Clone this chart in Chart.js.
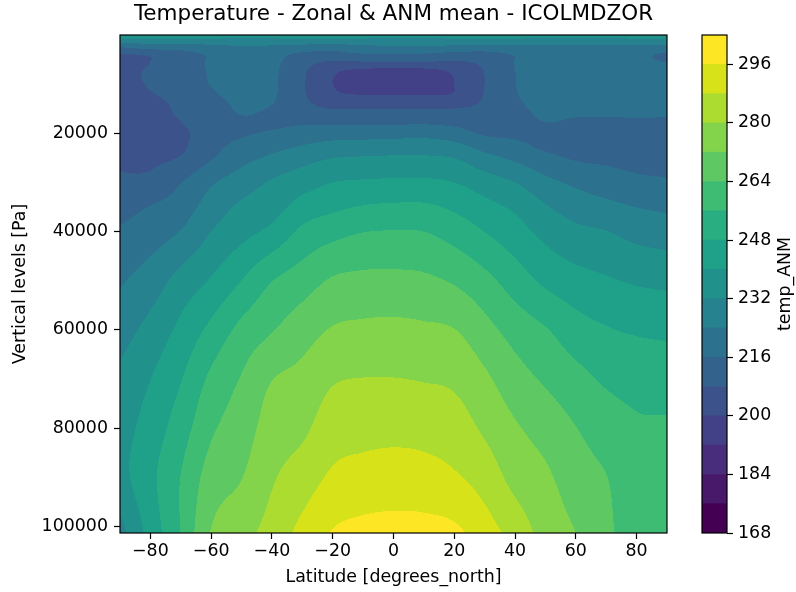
<!DOCTYPE html>
<html>
<head>
<meta charset="utf-8">
<script src="https://cdn.jsdelivr.net/npm/chart.js@4.4.1/dist/chart.umd.min.js"></script>
<style>
  html, body { margin: 0; padding: 0; background: #fff; }
  #wrap { position: relative; width: 796px; height: 592px; }
  #wrap canvas { position: absolute; top: 0; }
  #main { left: 0; }
  #cbar { left: 690px; }
</style>
</head>
<body>
<div id="wrap">
  <canvas id="main" width="796" height="592"></canvas>
  <canvas id="cbar" width="106" height="592"></canvas>
</div>
<script>
// Latitudes of the grid columns (degrees north)
const lats = [-90, -80, -70, -60, -50, -40, -30, -20, -10, 0, 10, 20, 30, 40, 50, 60, 70, 80, 90];
// Pressure levels of the grid rows (Pa), top to bottom
const levels = [10, 1000, 2500, 4000, 5500, 7000, 8500, 10000, 12000, 14000, 16000, 18000,
                20000, 22500, 25000, 30000, 35000, 40000, 50000, 60000, 70000, 80000, 90000, 101300];
// Zonal mean temperature (K), one row per level, one value per latitude
const temps = [
  [238, 238, 238, 238, 238, 238, 238, 238, 238, 238, 238, 238, 238, 238, 238, 238, 238, 238, 238],
  [230, 230, 230, 230, 230, 230, 230, 230, 230, 230, 230, 230, 230, 230, 230, 230, 230, 230, 230],
  [216, 219, 219.5, 221.5, 223, 222.5, 221, 220, 222, 222.4, 222.4, 222, 221, 222, 222.5, 222.5, 222.5, 222, 221.5],
  [207, 209, 212.5, 217, 220, 219, 214, 213, 215, 215, 215, 213, 213, 216.5, 219.5, 219.5, 219.5, 218, 214.5],
  [205.5, 208, 211.5, 217, 219.5, 218, 211, 207, 207.5, 208, 208, 207, 210, 216.2, 219.3, 219.2, 219.2, 217.5, 215.8],
  [205, 208.8, 211.5, 216.8, 219.3, 217.5, 209.5, 202, 199.5, 199, 199.2, 202, 208.5, 216, 219.2, 219, 219, 218, 217.5],
  [204.5, 209.3, 211.5, 216.6, 219.2, 217.3, 209, 200.3, 195.5, 195, 195.3, 200.2, 208, 215.8, 219, 218.8, 218.8, 218.3, 218],
  [204, 208.8, 211, 216.3, 219, 217.2, 208.8, 200, 195, 194.5, 194.8, 200, 208, 215.8, 219, 218.6, 218.5, 218.2, 218],
  [203.5, 207.5, 210.5, 215, 218.5, 217, 209, 201.5, 199.5, 199.5, 199.5, 200.5, 208.3, 215.5, 218.5, 218, 218, 217.8, 217.6],
  [203.2, 206, 209.5, 213, 217.5, 216.2, 209.5, 206, 205.2, 205, 205, 205.8, 209, 214.8, 217.8, 217.2, 217.2, 217.2, 217],
  [203, 205.5, 208.8, 212, 216.3, 214.5, 211, 209.8, 210.5, 210.5, 210.5, 210.2, 210.5, 214, 217, 216.5, 216.5, 216.6, 216.5],
  [203.3, 205, 207.8, 212, 214.5, 214.5, 215.3, 215.2, 215.2, 215.2, 215.5, 214.4, 212.5, 213.8, 215.8, 215.1, 215, 215, 215],
  [204, 205, 206.5, 212.5, 215, 217, 219.2, 220.3, 220.6, 221, 221.5, 219.4, 215, 214.5, 214.3, 213.9, 213.8, 213.7, 213.6],
  [205, 205.5, 206.8, 213.5, 218, 221.1, 224.1, 226.4, 227, 227.4, 227.5, 226, 220.8, 217.9, 214.5, 214, 213.2, 212.8, 212.6],
  [206, 206.5, 208.5, 215.3, 221.4, 225.3, 229, 231.9, 232.6, 233, 233, 231.8, 226.5, 222.4, 218, 215.2, 214.5, 213.5, 213],
  [209.5, 209.9, 215.7, 223, 228, 232.9, 236.6, 240, 241, 241.4, 241.5, 240, 235.9, 232, 226.2, 222.5, 219.8, 217.8, 216.9],
  [213.2, 216.3, 220, 227.6, 233.5, 236.9, 243.1, 246.3, 248.5, 249.3, 249.3, 246.6, 242.5, 238.6, 232.7, 228.5, 226.2, 223.9, 222.6],
  [216.8, 220, 224.3, 232, 237.4, 242, 249.7, 253.4, 255.8, 256.3, 256, 252.7, 247.9, 243.1, 237.7, 233.8, 232.2, 229.4, 228],
  [223.1, 227.8, 234.9, 240.8, 248.1, 255.8, 260.2, 264.9, 266, 266.1, 265.5, 263.1, 258.4, 252.2, 246.4, 243, 240.9, 239.1, 238.1],
  [228.6, 234.6, 242, 250.1, 258.3, 263.5, 268.4, 272.6, 273.6, 273.9, 273.3, 272.2, 266.7, 260.9, 256.6, 251.4, 248.6, 247.1, 246.3],
  [233.5, 239.9, 247.6, 257.7, 264.6, 271.8, 274.4, 279.2, 280.2, 280.2, 279.6, 278.5, 273.5, 267.3, 262.9, 258.6, 254.9, 253.4, 252.9],
  [236.5, 243.5, 252.2, 262.7, 268.2, 275.5, 278.5, 284.3, 285.4, 285.8, 285.4, 283.8, 278.7, 273, 268.8, 264.2, 259.9, 257, 256.8],
  [237, 246, 256.2, 267.5, 271.8, 279.1, 283.9, 289.3, 290.9, 291.6, 291, 289, 284.6, 277.5, 273.4, 267.9, 264.2, 258.9, 258.3],
  [229, 243, 256.5, 272.5, 277.5, 283, 290.5, 296.6, 298.5, 299, 299, 297.8, 291.8, 285, 277, 272, 265.5, 261, 260]
];
// Filled contour levels (K) and colour bar ticks
const contourLevels = [168, 176, 184, 192, 200, 208, 216, 224, 232, 240, 248, 256, 264, 272, 280, 288, 296, 304];
const cbarTicks = [168, 184, 200, 216, 232, 248, 264, 280, 296];
const latTicks = [-80, -60, -40, -20, 0, 20, 40, 60, 80];
const levelTicks = [20000, 40000, 60000, 80000, 100000];

// viridis, one colour per band
const bandColors = ['#440154', '#48186a', '#472d7b', '#424086', '#3b528b', '#33638d', '#2c728e', '#26828e',
  '#21918c', '#1fa088', '#28ae80', '#3fbc73', '#5ec962', '#84d44b', '#addc30', '#d8e219', '#fde725'];

const FONT = 'DejaVu Sans';
Chart.defaults.font.family = FONT;
Chart.defaults.color = '#000';

function hexRgb(h) {
  return [parseInt(h.slice(1, 3), 16), parseInt(h.slice(3, 5), 16), parseInt(h.slice(5, 7), 16)];
}
const bandRgb = bandColors.map(hexRgb);

// cubic hermite weights on a (possibly uneven) grid
function cubicWeights(grid, v) {
  const n = grid.length;
  let k = 0;
  while (k < n - 2 && v > grid[k + 1]) k++;
  const d = grid[k + 1] - grid[k];
  const t = Math.max(0, Math.min(1, (v - grid[k]) / d));
  const km = Math.max(k - 1, 0), kp = Math.min(k + 2, n - 1);
  const t2 = t * t, t3 = t2 * t;
  const h00 = 2 * t3 - 3 * t2 + 1, h10 = t3 - 2 * t2 + t, h01 = -2 * t3 + 3 * t2, h11 = t3 - t2;
  const a = h10 * d / (grid[k + 1] - grid[km]);
  const b = h11 * d / (grid[kp] - grid[k]);
  return { idx: [km, k, k + 1, kp], w: [-a, h00 - b, h01 + a, b] };
}

function bandOf(t) {
  let k = 0;
  while (k < bandColors.length - 1 && t >= contourLevels[k + 1]) k++;
  return k;
}

// fills the plot area band by band, reading lat/pressure back from the scales
const contourPlugin = {
  id: 'contourf',
  beforeDatasetsDraw(chart) {
    const { ctx, chartArea: a, scales: { x, y } } = chart;
    const w = Math.round(a.right - a.left), h = Math.round(a.bottom - a.top);
    const off = document.createElement('canvas');
    off.width = w; off.height = h;
    const octx = off.getContext('2d');
    const img = octx.createImageData(w, h);
    const cols = [];
    for (let i = 0; i < w; i++) cols.push(cubicWeights(lats, x.getValueForPixel(a.left + i + 0.5)));
    const rowVals = new Array(lats.length);
    for (let j = 0; j < h; j++) {
      const rw = cubicWeights(levels, y.getValueForPixel(a.top + j + 0.5));
      for (let c = 0; c < lats.length; c++) {
        let s = 0;
        for (let q = 0; q < 4; q++) s += rw.w[q] * temps[rw.idx[q]][c];
        rowVals[c] = s;
      }
      for (let i = 0; i < w; i++) {
        const cw = cols[i];
        let t = 0;
        for (let q = 0; q < 4; q++) t += cw.w[q] * rowVals[cw.idx[q]];
        const rgb = bandRgb[bandOf(t)];
        const p = (j * w + i) * 4;
        img.data[p] = rgb[0]; img.data[p + 1] = rgb[1]; img.data[p + 2] = rgb[2]; img.data[p + 3] = 255;
      }
    }
    octx.putImageData(img, 0, 0);
    ctx.drawImage(off, a.left, a.top);
  },
  afterDraw(chart) {
    const { ctx, chartArea: a } = chart;
    ctx.save();
    ctx.strokeStyle = '#000';
    ctx.lineWidth = 1.2;
    ctx.strokeRect(a.left, a.top, a.right - a.left, a.bottom - a.top);
    ctx.restore();
  }
};

const tickFont = { family: FONT, size: 17.4 };

new Chart(document.getElementById('main'), {
  type: 'scatter',
  data: { datasets: [] },
  options: {
    responsive: false,
    animation: false,
    layout: { padding: { left: 0, right: 129, top: 0, bottom: 0 } },
    plugins: {
      legend: { display: false },
      tooltip: { enabled: false },
      title: {
        display: true,
        fullSize: false,
        text: 'Temperature - Zonal & ANM mean - ICOLMDZOR',
        color: '#000',
        font: { family: FONT, size: 21.5, weight: 'normal' },
        padding: { top: 2, bottom: 7.2 }
      }
    },
    scales: {
      x: {
        type: 'linear', min: -90, max: 90,
        afterBuildTicks: s => { s.ticks = latTicks.map(v => ({ value: v })); },
        afterFit: s => { s.height = 59; },
        ticks: { font: tickFont, color: '#000', padding: 2, maxRotation: 0,
                 callback: v => String(v).replace('-', '\u2212') },
        grid: { drawOnChartArea: false, drawTicks: true, tickLength: 6, tickColor: '#000', tickWidth: 1.2 },
        border: { display: false },
        title: { display: true, text: 'Latitude [degrees_north]', color: '#000',
                 font: tickFont, padding: { top: 0, bottom: 4 } }
      },
      y: {
        type: 'linear', reverse: true, min: 10, max: 101300,
        afterBuildTicks: s => { s.ticks = levelTicks.map(v => ({ value: v })); },
        afterFit: s => { s.width = 120; },
        ticks: { font: tickFont, color: '#000', padding: 6, callback: v => String(v) },
        grid: { drawOnChartArea: false, drawTicks: true, tickLength: 6, tickColor: '#000', tickWidth: 1.2 },
        border: { display: false },
        title: { display: true, text: 'Vertical levels [Pa]', color: '#000',
                 font: tickFont, padding: { top: 10, bottom: 0 } }
      }
    }
  },
  plugins: [contourPlugin]
});

// colour bar: one floating bar per contour band
const cbarPlugin = {
  id: 'cbarFrame',
  afterDraw(chart) {
    const { ctx, chartArea: a } = chart;
    ctx.save();
    ctx.strokeStyle = '#000';
    ctx.lineWidth = 1.2;
    ctx.strokeRect(a.left, a.top, a.right - a.left, a.bottom - a.top);
    ctx.translate(95, (a.top + a.bottom) / 2);
    ctx.rotate(-Math.PI / 2);
    ctx.fillStyle = '#000';
    ctx.font = '17.4px "' + FONT + '"';
    ctx.textAlign = 'center';
    ctx.textBaseline = 'middle';
    ctx.fillText('temp_ANM', 0, 0);
    ctx.restore();
  }
};

new Chart(document.getElementById('cbar'), {
  type: 'bar',
  data: {
    labels: ['temp_ANM'],
    datasets: bandColors.map((c, k) => ({
      data: [[contourLevels[k], contourLevels[k + 1]]],
      backgroundColor: c,
      borderWidth: 0
    }))
  },
  options: {
    responsive: false,
    animation: false,
    layout: { padding: { left: 12, right: 0, top: 35, bottom: 59 } },
    datasets: { bar: { grouped: false, barPercentage: 1, categoryPercentage: 1 } },
    plugins: { legend: { display: false }, tooltip: { enabled: false } },
    scales: {
      x: { display: false },
      y: {
        position: 'right', min: 168, max: 304,
        afterBuildTicks: s => { s.ticks = cbarTicks.map(v => ({ value: v })); },
        afterFit: s => { s.width = 69; },
        ticks: { font: tickFont, color: '#000', padding: 5 },
        grid: { drawOnChartArea: false, drawTicks: true, tickLength: 6, tickColor: '#000', tickWidth: 1.2 },
        border: { display: false }
      }
    }
  },
  plugins: [cbarPlugin]
});
</script>
</body>
</html>
